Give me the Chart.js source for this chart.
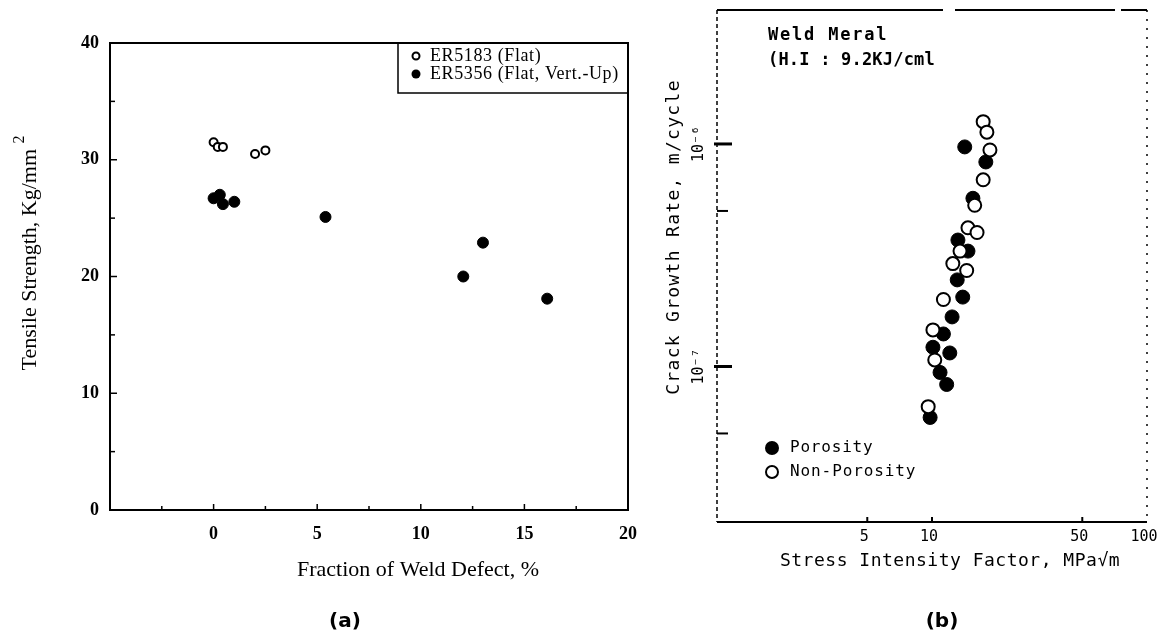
<!DOCTYPE html>
<html>
<head>
<meta charset="utf-8">
<script src="https://cdn.jsdelivr.net/npm/chart.js@4"></script>
<style>
    html, body { margin: 0; padding: 0; background: #fff; }
    #wrap { position: relative; width: 1169px; height: 635px; overflow: hidden; background: #fff; }
    canvas { position: absolute; top: 0; }
    #chartA { left: 0; }
    #chartB { left: 640px; }
</style>
</head>
<body>
<div id="wrap">
    <canvas id="chartA" width="640" height="635"></canvas>
    <canvas id="chartB" width="529" height="635"></canvas>
</div>
<script>
    // (a) tensile strength vs fraction of weld defect
    const er5183Defect = [0.0, 0.2, 0.45, 2.0, 2.5];
    const er5183Strength = [31.5, 31.1, 31.1, 30.5, 30.8];
    const er5356Defect = [0.0, 0.3, 0.45, 1.0, 5.4, 12.05, 13.0, 16.1];
    const er5356Strength = [26.7, 27.0, 26.2, 26.4, 25.1, 20.0, 22.9, 18.1];
    const defectTicks = [0, 5, 10, 15, 20];
    const defectMarks = [-2.5, 0, 2.5, 5, 7.5, 10, 12.5, 15, 17.5];
    const strengthTicks = [0, 10, 20, 30, 40];
    const strengthMarks = [5, 10, 15, 20, 25, 30, 35];

    // (b) crack growth rate vs stress intensity factor
    const porosityK = [14.2, 17.8, 15.5, 13.2, 14.7, 13.1, 13.9, 12.4, 11.3, 12.1, 10.1, 11.7, 10.9, 9.8];
    const porosityRate = [9.7e-7, 8.3e-7, 5.7e-7, 3.7e-7, 3.3e-7, 2.45e-7, 2.05e-7, 1.67e-7, 1.4e-7, 1.15e-7, 1.22e-7, 8.3e-8, 9.4e-8, 5.9e-8];
    const nonPorosityK = [17.3, 18.0, 18.6, 17.3, 15.8, 14.7, 16.2, 12.5, 14.5, 13.5, 11.3, 10.1, 10.3, 9.6];
    const nonPorosityRate = [1.26e-6, 1.13e-6, 9.4e-7, 6.9e-7, 5.3e-7, 4.2e-7, 4.0e-7, 2.9e-7, 2.7e-7, 3.3e-7, 2.0e-7, 1.46e-7, 1.07e-7, 6.6e-8];
    const stressTicks = [5, 10, 50, 100];
    const stressMarks = [5, 10, 50];
    const rateTicks = [1e-7, 1e-6];
    const rateTickLabels = ["10⁻⁷", "10⁻⁶"];
    const rateMarks = [5e-8, 5e-7];

    const SERIF = '"Liberation Serif", "Times New Roman", serif';
    const MONO = '"DejaVu Sans Mono", monospace';

    function toPoints(xs, ys) {
        return xs.map((x, i) => ({ x, y: ys[i] }));
    }

    function line(ctx, x1, y1, x2, y2) {
        ctx.beginPath();
        ctx.moveTo(x1, y1);
        ctx.lineTo(x2, y2);
        ctx.stroke();
    }

    function text(ctx, str, x, y, font, align, spacing) {
        ctx.font = font;
        ctx.textAlign = align || "left";
        ctx.textBaseline = "middle";
        ctx.letterSpacing = spacing || "0px";
        ctx.fillText(str, x, y);
    }

    const panelA = {
        id: "panelA",
        beforeDatasetsDraw(chart) {
            const { ctx, chartArea: a, scales: { x, y } } = chart;
            ctx.save();
            ctx.strokeStyle = "#000";
            ctx.lineWidth = 2;
            ctx.strokeRect(a.left, a.top, a.right - a.left, a.bottom - a.top);
            ctx.lineWidth = 1.5;
            strengthMarks.forEach((v) => {
                const py = y.getPixelForValue(v);
                line(ctx, a.left, py, a.left + (v % 10 === 0 ? 7 : 5), py);
            });
            defectMarks.forEach((v) => {
                const px = x.getPixelForValue(v);
                line(ctx, px, a.bottom, px, a.bottom - (v % 5 === 0 ? 6 : 4));
            });
            ctx.restore();
        },
        afterDraw(chart) {
            const { ctx, chartArea: a, scales: { x, y } } = chart;
            ctx.save();
            ctx.fillStyle = "#000";
            strengthTicks.forEach((v) => text(ctx, String(v), a.left - 11, y.getPixelForValue(v), "bold 18px " + SERIF, "right"));
            defectTicks.forEach((v) => text(ctx, String(v), x.getPixelForValue(v), a.bottom + 24, "bold 18px " + SERIF, "center"));

            text(ctx, "Fraction of Weld Defect, %", 418, 570, "22px " + SERIF, "center");

            // rotated y title with raised 2
            ctx.save();
            ctx.translate(30, 252);
            ctx.rotate(-Math.PI / 2);
            ctx.font = "22px " + SERIF;
            ctx.letterSpacing = "0px";
            const main = "Tensile Strength, Kg/mm ";
            const w = ctx.measureText(main).width;
            text(ctx, main, -(w + 10) / 2, 0, "22px " + SERIF, "left");
            text(ctx, "2", -(w + 10) / 2 + w, -10, "16px " + SERIF, "left");
            ctx.restore();

            // legend box
            ctx.strokeStyle = "#000";
            ctx.lineWidth = 1.5;
            ctx.strokeRect(398, a.top, a.right - 398, 50);
            const ds = chart.data.datasets;
            ctx.beginPath();
            ctx.arc(416, 56, 3.5, 0, Math.PI * 2);
            ctx.fillStyle = "#fff";
            ctx.fill();
            ctx.lineWidth = ds[0].pointBorderWidth;
            ctx.stroke();
            ctx.beginPath();
            ctx.arc(416, 74, 4.5, 0, Math.PI * 2);
            ctx.fillStyle = "#000";
            ctx.fill();
            text(ctx, ds[0].label, 430, 56, "18px " + SERIF, "left", "0.6px");
            text(ctx, ds[1].label, 430, 74, "18px " + SERIF, "left", "0.6px");

            text(ctx, "(a)", 345, 622, "bold 20px \"DejaVu Sans\"", "center");
            ctx.restore();
        }
    };

    const panelB = {
        id: "panelB",
        beforeDatasetsDraw(chart) {
            const { ctx, chartArea: a, scales: { x, y } } = chart;
            ctx.save();
            ctx.strokeStyle = "#000";
            ctx.lineWidth = 2;
            // top edge of the scanned frame has a couple of breaks
            line(ctx, a.left, a.top, a.left + 226, a.top);
            line(ctx, a.left + 238, a.top, a.left + 398, a.top);
            line(ctx, a.left + 404, a.top, a.right, a.top);
            line(ctx, a.left, a.bottom, a.right, a.bottom);
            ctx.lineWidth = 1.5;
            ctx.setLineDash([4, 3]);
            line(ctx, a.left, a.top, a.left, a.bottom);
            ctx.setLineDash([2, 7]);
            line(ctx, a.right, a.top, a.right, a.bottom);
            ctx.setLineDash([]);
            ctx.lineWidth = 3;
            rateTicks.forEach((v) => {
                const py = y.getPixelForValue(v);
                line(ctx, a.left - 3, py, a.left + 15, py);
            });
            ctx.lineWidth = 2;
            rateMarks.forEach((v) => {
                const py = y.getPixelForValue(v);
                line(ctx, a.left, py, a.left + 11, py);
            });
            stressMarks.forEach((v) => {
                const px = x.getPixelForValue(v);
                line(ctx, px, a.bottom, px, a.bottom - 5);
            });
            ctx.restore();
        },
        afterDraw(chart) {
            const { ctx, chartArea: a, scales: { x, y } } = chart;
            ctx.save();
            ctx.fillStyle = "#000";
            stressTicks.forEach((v) => text(ctx, String(v), x.getPixelForValue(v) - 3, a.bottom + 15, "15px " + MONO, "center"));
            rateTicks.forEach((v, i) => {
                ctx.save();
                ctx.translate(a.left - 18, y.getPixelForValue(v));
                ctx.rotate(-Math.PI / 2);
                text(ctx, rateTickLabels[i], 0, 0, "15px " + MONO, "center");
                ctx.restore();
            });

            text(ctx, "Stress Intensity Factor, MPa\u221Am", 310, 561, "18px " + MONO, "center", "0.5px");
            ctx.save();
            ctx.translate(34, 237);
            ctx.rotate(-Math.PI / 2);
            text(ctx, "Crack Growth Rate, m/cycle", 0, 0, "18px " + MONO, "center", "1.3px");
            ctx.restore();

            text(ctx, "Weld Meral", 128, 36, "bold 17px " + MONO, "left", "1.8px");
            text(ctx, "(H.I : 9.2KJ/cml", 128, 61, "bold 17px " + MONO, "left", "0.2px");

            const ds = chart.data.datasets;
            ctx.beginPath();
            ctx.arc(132, 448, 7, 0, Math.PI * 2);
            ctx.fillStyle = "#000";
            ctx.fill();
            ctx.beginPath();
            ctx.arc(132, 472, 6, 0, Math.PI * 2);
            ctx.strokeStyle = "#000";
            ctx.lineWidth = 2;
            ctx.stroke();
            ctx.fillStyle = "#000";
            text(ctx, ds[1].label, 150, 448, "16px " + MONO, "left", "0.8px");
            text(ctx, ds[0].label, 150, 472, "16px " + MONO, "left", "0.9px");

            text(ctx, "(b)", 302, 622, "bold 20px \"DejaVu Sans\"", "center");
            ctx.restore();
        }
    };

    const baseOptions = {
        responsive: false,
        animation: false,
        events: [],
        plugins: { legend: { display: false }, tooltip: { enabled: false } }
    };

    new Chart(document.getElementById("chartA"), {
        type: "scatter",
        data: {
            datasets: [
                {
                    label: "ER5183 (Flat)",
                    data: toPoints(er5183Defect, er5183Strength),
                    pointRadius: 4,
                    pointBorderWidth: 2,
                    pointBackgroundColor: "#fff",
                    pointBorderColor: "#000"
                },
                {
                    label: "ER5356 (Flat, Vert.-Up)",
                    data: toPoints(er5356Defect, er5356Strength),
                    pointRadius: 5.5,
                    pointBorderWidth: 1,
                    pointBackgroundColor: "#000",
                    pointBorderColor: "#000"
                }
            ]
        },
        options: {
            ...baseOptions,
            layout: { padding: { left: 110, top: 43, right: 12, bottom: 125 } },
            scales: {
                x: { type: "linear", min: -5, max: 20, display: false },
                y: { type: "linear", min: 0, max: 40, display: false }
            }
        },
        plugins: [panelA]
    });

    new Chart(document.getElementById("chartB"), {
        type: "scatter",
        data: {
            datasets: [
                {
                    label: "Non-Porosity",
                    data: toPoints(nonPorosityK, nonPorosityRate),
                    pointRadius: 6.5,
                    pointBorderWidth: 2,
                    pointBackgroundColor: "#fff",
                    pointBorderColor: "#000"
                },
                {
                    label: "Porosity",
                    data: toPoints(porosityK, porosityRate),
                    pointRadius: 7,
                    pointBorderWidth: 1,
                    pointBackgroundColor: "#000",
                    pointBorderColor: "#000"
                }
            ]
        },
        options: {
            ...baseOptions,
            layout: { padding: { left: 77, top: 10, right: 22, bottom: 113 } },
            scales: {
                x: { type: "logarithmic", min: 1, max: 100, display: false },
                y: { type: "logarithmic", min: 2e-8, max: 4e-6, display: false }
            }
        },
        plugins: [panelB]
    });
</script>
</body>
</html>
